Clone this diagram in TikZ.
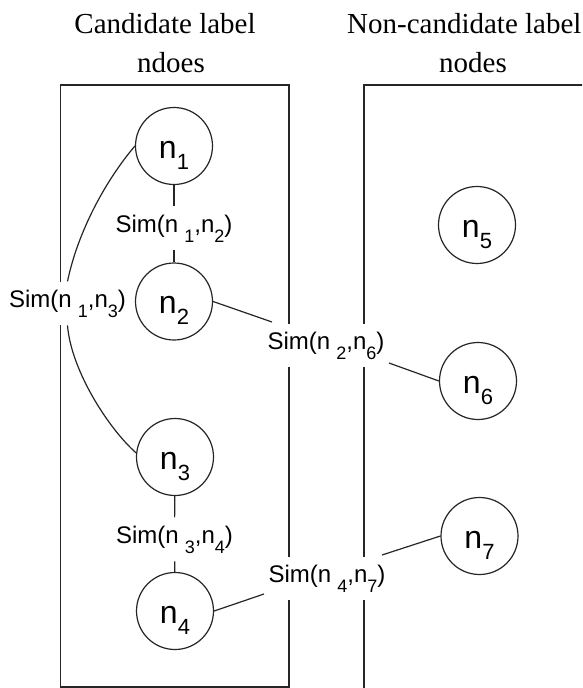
\documentclass[tikz,border=0pt]{standalone}
\usepackage{fontspec}
\setmainfont{Liberation Serif}
\newfontfamily\lsans{Liberation Sans}
\newcommand{\lsub}[1]{\raisebox{-10pt}{\fontsize{18}{18}\selectfont #1}}
\newcommand{\csub}[1]{\raisebox{-11pt}{\fontsize{22}{22}\selectfont #1}}
\begin{document}
\begin{tikzpicture}[x=1pt,y=1pt,
  line/.style={draw=black!85, line width=1.2pt},
  cnode/.style={circle, draw=black!85, line width=1.2pt, minimum size=77pt, inner sep=0pt,
     font=\lsans\fontsize{32}{32}\selectfont, text height=24pt, text depth=0pt},
  simlabel/.style={fill=white, inner xsep=4pt, inner ysep=8pt, font=\lsans\fontsize{24}{28}\selectfont},
  title/.style={inner sep=0pt, font=\fontsize{29}{34}\selectfont}
]
\useasboundingbox (0,0) rectangle (582,-688);
\clip (0,0) rectangle (582,-688);
\fill[white] (0,0) rectangle (582,-688);

% titles
\node[title, anchor=base] (t1) at (165,-33) {Candidate label};
\node[title, anchor=base] (t2) at (171,-72) {ndoes};
\node[title, anchor=base west] (t3) at (347,-33) {Non-candidate label};
\node[title, anchor=base] (t4) at (473,-72) {nodes};

% boxes
\draw[line] (60.5,-85) rectangle (289,-687);
\draw[line] (620,-85) -- (364,-85) -- (364,-700);

% circles
\node[cnode] (n1) at (174,-146) {n\csub{1}};
\node[cnode] (n2) at (174,-301.5) {n\csub{2}};
\node[cnode] (n3) at (175,-457) {n\csub{3}};
\node[cnode] (n4) at (175,-611) {n\csub{4}};
\node[cnode] (n5) at (477,-225) {n\csub{5}};
\node[cnode] (n6) at (478,-381) {n\csub{6}};
\node[cnode] (n7) at (479.5,-536) {n\csub{7}};

% similarity labels
\node[simlabel, anchor=base] (l12) at (174,-232) {Sim(n\hspace{6pt}\lsub{1},n\lsub{2})};
\node[simlabel, anchor=base] (l13) at (67.5,-307) {Sim(n\hspace{6pt}\lsub{1},n\lsub{3})};
\node[simlabel, anchor=base] (l26) at (326,-349) {Sim(n\hspace{6pt}\lsub{2},n\lsub{6})};
\node[simlabel, anchor=base] (l34) at (174.5,-543) {Sim(n\hspace{6pt}\lsub{3},n\lsub{4})};
\node[simlabel, anchor=base] (l47) at (327,-582) {Sim(n\hspace{6pt}\lsub{4},n\lsub{7})};

% connector end points
\coordinate (c26a) at (272,-322);
\coordinate (c26b) at (389,-363);
\coordinate (c47a) at (264,-594);
\coordinate (c47b) at (382,-555);

% connectors
\draw[line] (n1) -- (l12);
\draw[line] (l12) -- (n2);
\draw[line] (n3) -- (l34);
\draw[line] (l34) -- (n4);
\draw[line] (n1.180) .. controls (106,-180) and (78,-231) .. (l13.north);
\draw[line] (l13.south) .. controls (71,-370) and (108,-428) .. (n3.174);
\draw[line] (n2.east) -- (c26a);
\draw[line] (c26b) -- (n6.west);
\draw[line] (n4.east) -- (c47a);
\draw[line] (c47b) -- (n7.west);
\end{tikzpicture}
\end{document}
